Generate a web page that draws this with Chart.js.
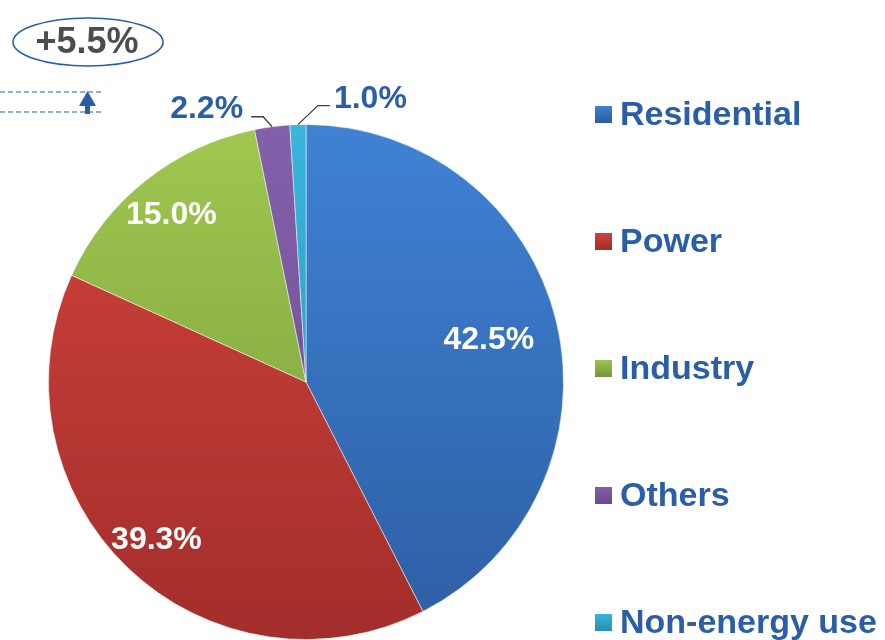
<!DOCTYPE html>
<html>
<head>
<meta charset="utf-8">
<script src="https://cdn.jsdelivr.net/npm/chart.js@4.4.1/dist/chart.umd.min.js"></script>
<style>
  html, body { margin: 0; padding: 0; background: #fff; }
  #wrap { width: 885px; height: 640px; position: relative; }
</style>
</head>
<body>
<div id="wrap"><canvas id="myChart" width="885" height="640"></canvas></div>
<script>
// ---- data ----
const categories = ["Residential", "Power", "Industry", "Others", "Non-energy use"];
const shares = [42.5, 39.3, 15.0, 2.2, 1.0];
const labelText = ["42.5%", "39.3%", "15.0%", "2.2%", "1.0%"];
const growthNote = "+5.5%";

// light (top) / dark (bottom) shade for each slice
const topColors = ["#3f82d4", "#d4433c", "#a0c850", "#8460ab", "#38b6dc"];
const bottomColors = ["#2d5ea4", "#a22e2b", "#76983a", "#6a4a90", "#2a8fb0"];

const textBlue = "#2a5ea8";
const ctx = document.getElementById("myChart");

function sliceFill(context) {
  const chart = context.chart;
  const area = chart.chartArea;
  const i = context.dataIndex;
  if (!area) return topColors[i];
  const g = chart.ctx.createLinearGradient(0, area.top, 0, area.bottom);
  g.addColorStop(0, topColors[i]);
  g.addColorStop(1, bottomColors[i]);
  return g;
}

// labels on / beside the slices
const sliceLabels = {
  id: "sliceLabels",
  afterDatasetsDraw(chart) {
    const c = chart.ctx;
    const arcs = chart.getDatasetMeta(0).data;
    const inside = [0.73, 0.84, 0.84]; // radius factor for inner labels
    c.save();
    arcs.forEach((arc, i) => {
      const p = arc.getProps(["x", "y", "startAngle", "endAngle", "outerRadius"], true);
      const mid = (p.startAngle + p.endAngle) / 2;
      if (i < 3) {
        const r = p.outerRadius * inside[i];
        c.font = "bold 32px 'Liberation Sans', Arial, sans-serif";
        c.fillStyle = "#ffffff";
        c.textAlign = "center";
        c.textBaseline = "middle";
        c.fillText(labelText[i], p.x + Math.cos(mid) * r, p.y + Math.sin(mid) * r + 2);
      } else {
        // leader line from the rim
        const sx = p.x + Math.cos(mid) * p.outerRadius;
        const sy = p.y + Math.sin(mid) * p.outerRadius;
        const left = Math.cos(mid) < -0.05;
        const ex = left ? sx - 9 : sx + 20;
        const ey = left ? sy - 10 : sy - 19;
        const hx = left ? ex - 12 : ex + 12;
        c.strokeStyle = "#404040";
        c.lineWidth = 1.3;
        c.beginPath();
        c.moveTo(sx, sy);
        c.lineTo(ex, ey);
        c.lineTo(hx, ey);
        c.stroke();
        c.font = "bold 32px 'Liberation Sans', Arial, sans-serif";
        c.fillStyle = textBlue;
        c.textBaseline = "alphabetic";
        c.textAlign = left ? "right" : "left";
        c.fillText(labelText[i], left ? hx - 8 : hx + 4, left ? ey + 1 : ey + 2);
      }
    });
    c.restore();
  }
};

// legend spread down the right side
const sideLegend = {
  id: "sideLegend",
  afterDraw(chart) {
    const c = chart.ctx;
    const x0 = 595, y0 = 113, step = 127;
    c.save();
    categories.forEach((name, i) => {
      const y = y0 + i * step;
      const g = c.createLinearGradient(0, y - 8, 0, y + 9);
      g.addColorStop(0, topColors[i]);
      g.addColorStop(1, bottomColors[i]);
      c.fillStyle = g;
      c.fillRect(x0, y - 7, 17, 17);
      c.font = "bold 34px 'Liberation Sans', Arial, sans-serif";
      c.fillStyle = textBlue;
      c.textAlign = "left";
      c.textBaseline = "alphabetic";
      c.fillText(name, x0 + 25, y + 12);
    });
    c.restore();
  }
};

// growth note in the top-left corner
const growthBadge = {
  id: "growthBadge",
  afterDraw(chart) {
    const c = chart.ctx;
    c.save();
    c.strokeStyle = textBlue;
    c.lineWidth = 1.6;
    c.beginPath();
    c.ellipse(88, 42, 75, 24, 0, 0, Math.PI * 2);
    c.stroke();
    c.font = "bold 36px 'Liberation Sans', Arial, sans-serif";
    c.fillStyle = "#4d4d4d";
    c.textAlign = "center";
    c.textBaseline = "middle";
    c.fillText(growthNote, 87, 43);

    c.setLineDash([5, 3]);
    c.lineWidth = 1.2;
    c.beginPath();
    c.moveTo(0, 92); c.lineTo(101, 92);
    c.moveTo(0, 112); c.lineTo(101, 112);
    c.stroke();
    c.setLineDash([]);
    c.fillStyle = textBlue;
    c.fillRect(85, 104, 5, 10);
    c.beginPath();
    c.moveTo(87.5, 91); c.lineTo(79, 106); c.lineTo(96, 106);
    c.closePath();
    c.fill();
    c.restore();
  }
};

new Chart(ctx, {
  type: "pie",
  data: {
    labels: categories,
    datasets: [
      {
        data: shares,
        backgroundColor: sliceFill,
        borderColor: "rgba(255,255,255,0.5)",
        borderWidth: 1,
      },
    ],
  },
  options: {
    responsive: false,
    animation: false,
    layout: { padding: { left: 48, right: 321, top: 124, bottom: 0 } },
    plugins: {
      legend: { display: false },
      tooltip: { enabled: false },
    },
  },
  plugins: [sliceLabels, sideLegend, growthBadge],
});
</script>
</body>
</html>
